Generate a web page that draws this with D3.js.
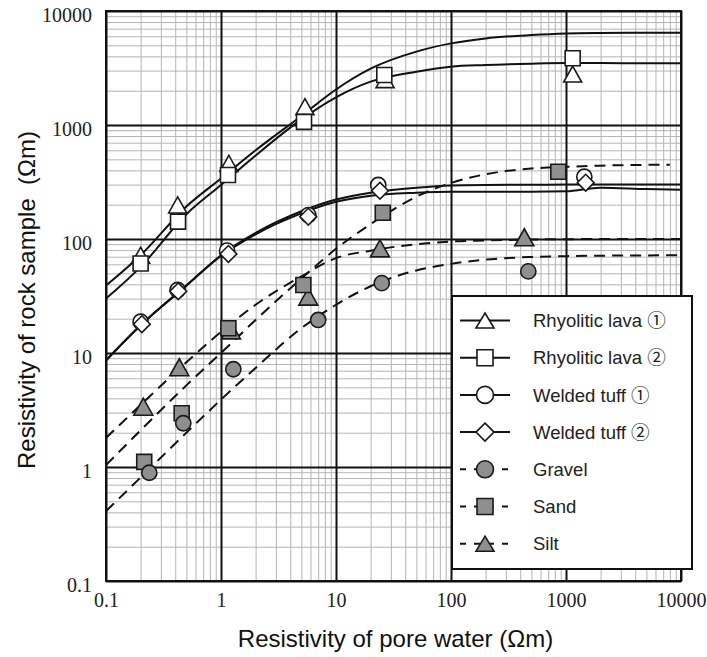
<!DOCTYPE html>
<html><head><meta charset="utf-8">
<script src="https://cdn.jsdelivr.net/npm/d3@7"></script>
<style>body{margin:0;background:#fff}</style>
</head><body>
<svg id="c" width="707" height="657"></svg>
<script>
// ---------- data ----------
const seriesNames = ["Rhyolitic lava \u2460", "Rhyolitic lava \u2461", "Welded tuff \u2460", "Welded tuff \u2461", "Gravel", "Sand", "Silt"];

// fitted curves
const curveX = [0.1, 0.2, 0.5, 1, 2, 5, 10, 20, 50, 100, 200, 500, 1000, 2000, 5000, 10000];
const rhyo1Curve = [39, 72, 193, 340, 600, 1200, 2050, 3120, 4400, 5200, 5750, 6150, 6350, 6420, 6450, 6450];
const rhyo2Curve = [30, 57, 165, 298, 540, 1120, 1750, 2400, 2930, 3250, 3360, 3450, 3490, 3490, 3480, 3480];
const welded1Curve = [8.6, 17.5, 39, 72, 113, 175, 222, 255, 282, 295, 298, 299, 300, 300, 300, 300];
const welded2Curve = [8.6, 17.5, 39, 71, 110, 168, 212, 240, 255, 260, 260, 260, 262, 282, 274, 270];
const gravelCurve = [0.41, 0.81, 2.0, 3.9, 7.4, 16.5, 26.5, 38.5, 53, 60.5, 66, 69.5, 70.7, 71.4, 71.8, 72];
const sandCurveX = [0.1, 0.2, 0.5, 1, 2, 5, 10, 20, 50, 100, 200, 500, 1000, 2000, 5000, 8000];
const sandCurve = [1.04, 2.1, 5.2, 10, 19.5, 45, 82, 135, 235, 310, 370, 415, 430, 440, 447, 449];
const siltCurve = [1.8, 3.5, 8.3, 15.3, 26.5, 47, 68, 79, 90, 95, 97, 99, 99.5, 100, 100, 100];

// measured points
const rhyo1X = [0.2, 0.42, 1.17, 5.37, 26.7, 1143];
const rhyo1Y = [72, 199, 461, 1449, 2500, 2800];
const rhyo2X = [0.2, 0.423, 1.15, 5.27, 26.3, 1143];
const rhyo2Y = [61, 142, 364, 1065, 2746, 3846];
const welded1X = [0.2, 0.42, 1.13, 5.75, 23.3, 1443];
const welded1Y = [18.8, 35.7, 79, 162, 298, 352];
const welded2X = [0.205, 0.425, 1.16, 5.74, 24.1, 1483];
const welded2Y = [17.9, 34.8, 74, 157, 265, 312];
const gravelX = [0.238, 0.47, 1.28, 7.0, 25, 470];
const gravelY = [0.89, 2.42, 7.2, 19.5, 41, 52];
const sandX = [0.215, 0.455, 1.16, 5.2, 25.5, 857];
const sandY = [1.11, 2.96, 16.5, 39.5, 170, 389];
const siltX = [0.211, 0.434, 1.22, 5.74, 24.1, 434];
const siltY = [3.38, 7.5, 15.8, 31.2, 82.8, 103.6];

const axisTicks = [0.1, 1, 10, 100, 1000, 10000];
const tickLabels = ["0.1", "1", "10", "100", "1000", "10000"];
const xTitle = "Resistivity of pore water (\u03A9m)";
const yTitle = "Resistivity of rock sample\u00A0\u00A0(\u03A9m)";

// ---------- drawing ----------
const W = 707, H = 657;
const L = 106, R = 681, T = 11, B = 581;
const svg = d3.select("#c");
svg.append("rect").attr("width", W).attr("height", H).attr("fill", "#fff");

const x = d3.scaleLog().domain([0.1, 10000]).range([L, R]);
const y = d3.scaleLog().domain([0.1, 10000]).range([B, T]);

const minor = [];
axisTicks.slice(0, -1).forEach(d => { for (let k = 2; k <= 9; k++) minor.push(d * k); });

const serif = "'Liberation Serif','Times New Roman',serif";
const sans = "'Liberation Sans',Arial,'Noto Sans CJK JP',sans-serif";

// minor grid
svg.append("g").attr("transform", `translate(0,${B})`)
  .call(d3.axisBottom(x).tickValues(minor).tickSize(-(B - T)).tickFormat(""))
  .call(g => { g.select(".domain").remove(); g.selectAll("line").attr("stroke", "#b5b5b5").attr("stroke-width", 1); });
svg.append("g").attr("transform", `translate(${L},0)`)
  .call(d3.axisLeft(y).tickValues(minor).tickSize(-(R - L)).tickFormat(""))
  .call(g => { g.select(".domain").remove(); g.selectAll("line").attr("stroke", "#b5b5b5").attr("stroke-width", 1); });
// major grid
svg.append("g").attr("transform", `translate(0,${B})`)
  .call(d3.axisBottom(x).tickValues(axisTicks).tickSize(-(B - T)).tickFormat(""))
  .call(g => { g.select(".domain").remove(); g.selectAll("line").attr("stroke", "#111").attr("stroke-width", 2); });
svg.append("g").attr("transform", `translate(${L},0)`)
  .call(d3.axisLeft(y).tickValues(axisTicks).tickSize(-(R - L)).tickFormat(""))
  .call(g => { g.select(".domain").remove(); g.selectAll("line").attr("stroke", "#111").attr("stroke-width", 2); });
// border
svg.append("rect").attr("x", L).attr("y", T).attr("width", R - L).attr("height", B - T)
  .attr("fill", "none").attr("stroke", "#111").attr("stroke-width", 2);

// tick labels
svg.append("g").attr("transform", `translate(0,${B})`)
  .call(d3.axisBottom(x).tickValues(axisTicks).tickSize(0).tickPadding(12).tickFormat((d, i) => tickLabels[i]))
  .call(g => { g.select(".domain").remove(); g.selectAll("text").attr("font-family", serif).attr("font-size", 20).attr("fill", "#222"); });
svg.append("g").attr("transform", `translate(${L},0)`)
  .call(d3.axisLeft(y).tickValues(axisTicks).tickSize(0).tickPadding(14).tickFormat((d, i) => tickLabels[i]))
  .call(g => { g.select(".domain").remove(); g.selectAll("text").attr("font-family", serif).attr("font-size", 20).attr("fill", "#222").attr("dy", "0.52em"); });

// axis titles
svg.append("text").attr("x", (L + R) / 2 + 2).attr("y", 647).attr("text-anchor", "middle")
  .attr("font-family", sans).attr("font-size", 24).attr("fill", "#111").text(xTitle);
svg.append("text").attr("transform", `translate(35,300) rotate(-90)`).attr("text-anchor", "middle")
  .attr("font-family", sans).attr("font-size", 24).attr("fill", "#111").text(yTitle);

// symbol shapes
const tri = (w, h) => `M0,${-h / 2}L${w / 2},${h / 2}L${-w / 2},${h / 2}Z`;
const sq = s => `M${-s / 2},${-s / 2}h${s}v${s}h${-s}Z`;
const circ = r => `M${r},0A${r},${r},0,1,1,${-r},0A${r},${r},0,1,1,${r},0Z`;
const dia = h => `M0,${-h}L${h},0L0,${h}L${-h},0Z`;

const WHITE = "#fff", GRAY = "#8f8f8f";
const series = [
  { name: seriesNames[0], cx: curveX, cy: rhyo1Curve, px: rhyo1X, py: rhyo1Y, shape: tri(18, 16), lshape: tri(18, 15), fill: WHITE, dash: null },
  { name: seriesNames[1], cx: curveX, cy: rhyo2Curve, px: rhyo2X, py: rhyo2Y, shape: sq(15), lshape: sq(16), fill: WHITE, dash: null },
  { name: seriesNames[2], cx: curveX, cy: welded1Curve, px: welded1X, py: welded1Y, shape: circ(7.6), lshape: circ(8.5), fill: WHITE, dash: null },
  { name: seriesNames[3], cx: curveX, cy: welded2Curve, px: welded2X, py: welded2Y, shape: dia(8.4), lshape: dia(9), fill: WHITE, dash: null },
  { name: seriesNames[4], cx: curveX, cy: gravelCurve, px: gravelX, py: gravelY, shape: circ(7.6), lshape: circ(8.5), fill: GRAY, dash: "11,7" },
  { name: seriesNames[5], cx: sandCurveX, cy: sandCurve, px: sandX, py: sandY, shape: sq(15), lshape: sq(16), fill: GRAY, dash: "11,7" },
  { name: seriesNames[6], cx: curveX, cy: siltCurve, px: siltX, py: siltY, shape: tri(19, 17), lshape: tri(18, 15), fill: GRAY, dash: "11,7" }
];

const line = d3.line().x(d => x(d[0])).y(d => y(d[1])).curve(d3.curveMonotoneX);
svg.append("clipPath").attr("id", "pc").append("rect")
  .attr("x", L).attr("y", T).attr("width", R - L).attr("height", B - T);

const curves = svg.append("g").attr("clip-path", "url(#pc)");
series.forEach(s => {
  curves.append("path").datum(s.cx.map((v, i) => [v, s.cy[i]]))
    .attr("d", line).attr("fill", "none").attr("stroke", "#111").attr("stroke-width", 2)
    .attr("stroke-dasharray", s.dash);
});

// markers: squares/diamonds overlay, sand over silt, gravel on top
const order = [0, 1, 2, 3, 6, 5, 4];
const marks = svg.append("g");
order.forEach(k => {
  const s = series[k];
  marks.selectAll(null).data(s.px.map((v, i) => [v, s.py[i]])).join("path")
    .attr("transform", d => `translate(${x(d[0])},${y(d[1])})`)
    .attr("d", s.shape).attr("fill", s.fill).attr("stroke", "#1a1a1a").attr("stroke-width", 1.6);
});

// legend
const lg = svg.append("g");
lg.append("rect").attr("x", 452).attr("y", 296).attr("width", 240).attr("height", 273)
  .attr("fill", "#fff").attr("stroke", "#111").attr("stroke-width", 2);
series.forEach((s, i) => {
  const cy = 320.5 + i * 37.2;
  lg.append("line").attr("x1", 460).attr("x2", 510).attr("y1", cy).attr("y2", cy)
    .attr("stroke", "#111").attr("stroke-width", 2).attr("stroke-dasharray", s.dash ? "6,8" : null);
  lg.append("path").attr("transform", `translate(485,${cy})`).attr("d", s.lshape)
    .attr("fill", s.fill).attr("stroke", "#1a1a1a").attr("stroke-width", 1.6);
  lg.append("text").attr("x", 533).attr("y", cy).attr("dy", "0.36em")
    .attr("font-family", sans).attr("font-size", 18.5).attr("fill", "#222").text(s.name);
});
</script>
</body></html>
